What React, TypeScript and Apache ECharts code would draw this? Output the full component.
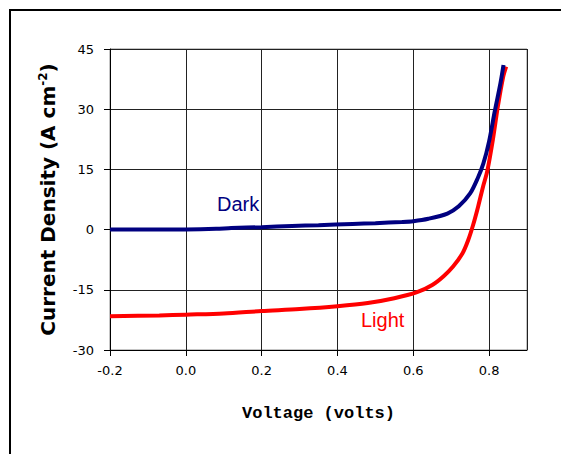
import React, { useEffect, useRef } from "react";
import * as echarts from "echarts";

// Current density vs. voltage for a solar cell, measured in the dark and under illumination
const darkVoltage = [-0.2, 0.0, 0.08, 0.12, 0.2, 0.28, 0.35, 0.44, 0.5, 0.57, 0.6, 0.64, 0.69, 0.72, 0.75, 0.77, 0.785, 0.8, 0.815, 0.83, 0.838];
const darkCurrent = [0.0, 0.05, 0.2, 0.4, 0.6, 0.9, 1.1, 1.4, 1.6, 1.9, 2.1, 2.7, 4.0, 5.8, 9.0, 12.8, 16.5, 22.0, 29.5, 36.5, 41.0];

const lightVoltage = [-0.2, -0.07, 0.0, 0.1, 0.2, 0.3, 0.4, 0.48, 0.55, 0.61, 0.65, 0.68, 0.705, 0.73, 0.745, 0.758, 0.771, 0.784, 0.795, 0.81, 0.823, 0.837, 0.845];
const lightCurrent = [-21.6, -21.4, -21.2, -20.9, -20.3, -19.8, -19.1, -18.3, -17.1, -15.6, -13.8, -11.6, -9.2, -5.9, -2.6, 1.2, 5.7, 10.7, 14.5, 22.4, 30.6, 38.0, 40.6];

const xTicks = [-0.2, 0.0, 0.2, 0.4, 0.6, 0.8];
const yTicks = [-30, -15, 0, 15, 30, 45];

const pairs = (xs: number[], ys: number[]) => xs.map((x, i) => [x, ys[i]]);

export default function App() {
  const ref = useRef<HTMLDivElement>(null);

  useEffect(() => {
    if (!ref.current) return;
    const chart = echarts.init(ref.current, undefined, { renderer: "svg" });
    const labelFont = "'DejaVu Sans', Verdana, sans-serif";
    chart.setOption({
      animation: false,
      backgroundColor: "#ffffff",
      grid: {
        left: 110,
        top: 49,
        right: 34,
        bottom: 104,
        show: true,
        borderColor: "#8a8a8a",
        borderWidth: 1,
      },
      xAxis: {
        type: "value",
        min: xTicks[0],
        max: 0.9,
        interval: 0.2,
        axisLine: { show: true, onZero: false, lineStyle: { color: "#000", width: 1 } },
        axisTick: { show: true, length: 6, lineStyle: { color: "#000" } },
        splitLine: { show: true, lineStyle: { color: "#222", width: 1 } },
        axisLabel: {
          margin: 14,
          color: "#000",
          fontFamily: labelFont,
          fontSize: 13,
          showMaxLabel: false,
          formatter: (v: number) => (xTicks.some((t) => Math.abs(t - v) < 1e-6) ? v.toFixed(1) : ""),
        },
        name: "Voltage (volts)",
        nameLocation: "middle",
        nameGap: 55,
        nameTextStyle: {
          fontFamily: "'Liberation Mono', 'Courier New', monospace",
          fontWeight: "bold",
          fontSize: 17,
          color: "#000",
        },
      },
      yAxis: {
        type: "value",
        min: yTicks[0],
        max: yTicks[yTicks.length - 1],
        interval: 15,
        axisLine: { show: true, onZero: false, lineStyle: { color: "#000", width: 1 } },
        axisTick: { show: true, length: 6, lineStyle: { color: "#000" } },
        splitLine: { show: true, lineStyle: { color: "#222", width: 1 } },
        axisLabel: {
          margin: 16,
          color: "#000",
          fontFamily: labelFont,
          fontSize: 13,
        },
        name: "{a|Current Density (A cm}{s|-2}{a|)}",
        nameLocation: "middle",
        nameGap: 52,
        nameTextStyle: {
          rich: {
            a: {
              fontFamily: "'DejaVu Sans', sans-serif",
              fontWeight: "bold",
              fontSize: 20,
              color: "#000",
            },
            s: {
              fontFamily: "'DejaVu Sans', sans-serif",
              fontWeight: "bold",
              fontSize: 12,
              color: "#000",
              verticalAlign: "top",
              padding: [0, 0, 9, 0],
            },
          },
        },
      },
      series: [
        {
          name: "Dark",
          type: "line",
          data: pairs(darkVoltage, darkCurrent),
          showSymbol: false,
          smooth: 0.3,
          lineStyle: { color: "#000080", width: 4 },
          z: 3,
        },
        {
          name: "Light",
          type: "line",
          data: pairs(lightVoltage, lightCurrent),
          showSymbol: false,
          smooth: 0.3,
          lineStyle: { color: "#ff0000", width: 4 },
          z: 2,
        },
      ],
      graphic: [
        {
          type: "rect",
          shape: { x: 10, y: 10, width: 700, height: 600 },
          style: { fill: "none", stroke: "#000", lineWidth: 2 },
          silent: true,
        },
        {
          type: "text",
          x: 217,
          y: 204,
          style: {
            text: "Dark",
            fill: "#000080",
            font: "20px 'Liberation Sans', Arial, sans-serif",
            verticalAlign: "middle",
          },
        },
        {
          type: "text",
          x: 361,
          y: 320,
          style: {
            text: "Light",
            fill: "#ff0000",
            font: "20px 'Liberation Sans', Arial, sans-serif",
            verticalAlign: "middle",
          },
        },
      ],
    });
    return () => chart.dispose();
  }, []);

  return <div ref={ref} style={{ width: 561, height: 454, position: "absolute", left: 0, top: 0 }} />;
}
